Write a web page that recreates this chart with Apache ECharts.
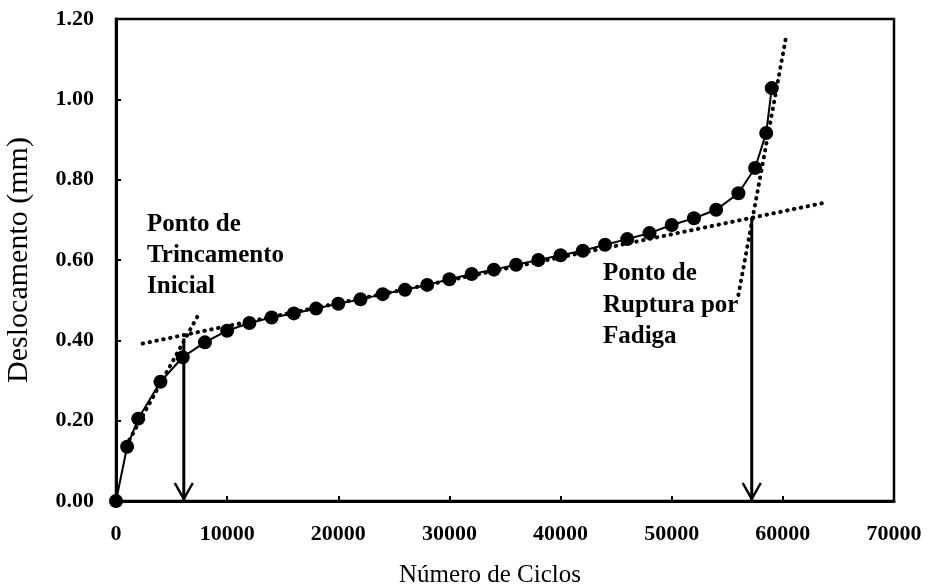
<!DOCTYPE html>
<html>
<head>
<meta charset="utf-8">
<script src="https://cdn.jsdelivr.net/npm/echarts@6/dist/echarts.min.js"></script>
<style>
html,body{margin:0;padding:0;background:#fff;}
#chart{width:928px;height:586px;}
</style>
</head>
<body>
<div id="chart"></div>
<script>
// Measured data (cycles vs displacement)
const cycles = [0,1000,2000,4000,6000,8000,10000,12000,14000,16000,18000,20000,22000,24000,26000,28000,30000,32000,34000,36000,38000,40000,42000,44000,46000,48000,50000,52000,54000,56000,57500,58500,59000];
const disp = [0,0.135,0.205,0.297,0.358,0.395,0.424,0.443,0.457,0.467,0.479,0.491,0.502,0.515,0.526,0.538,0.552,0.565,0.576,0.588,0.600,0.612,0.623,0.638,0.652,0.667,0.687,0.704,0.725,0.766,0.829,0.916,1.028];

// Tangent (dotted) lines, endpoints
const tanInitX = [1200, 7400];
const tanInitY = [0.152, 0.463];
const tanMidX = [2400, 64000];
const tanMidY = [0.392, 0.744];
const tanFinalX = [56000, 60340];
const tanFinalY = [0.513, 1.163];

// Arrows (intersection points)
const arrowX = [6100, 57200];
const arrowTop = [0.405, 0.705];

// Axis
const xTicks = [0,10000,20000,30000,40000,50000,60000,70000];
const yTicks = [0,0.2,0.4,0.6,0.8,1.0,1.2];

const annot1 = ['Ponto de','Trincamento','Inicial'];
const annot2 = ['Ponto de','Ruptura por','Fadiga'];

const pair = (xs, ys) => xs.map((x, i) => [x, ys[i]]);
const serif = '"Liberation Serif", "Times New Roman", serif';

const dotted = {
  color: '#000', width: 4, type: [0.5, 6.5], cap: 'round'
};

const chart = echarts.init(document.getElementById('chart'), null, {renderer: 'canvas'});
chart.setOption({
  backgroundColor: '#fff',
  animation: false,
  grid: {left: 116, right: 34, top: 19, bottom: 85, show: true, borderColor: '#000', borderWidth: 2.5,
    backgroundColor: 'transparent', outerBoundsMode: 'none', containLabel: false},
  xAxis: {
    type: 'value', min: xTicks[0], max: xTicks[xTicks.length-1], interval: 10000,
    name: 'Número de Ciclos', nameLocation: 'middle', nameGap: 62,
    nameTextStyle: {fontFamily: serif, fontSize: 25, color: '#000', padding: [0, 30, 0, 0]},
    axisLine: {show: true, onZero: false, lineStyle: {color: '#000', width: 3}},
    axisTick: {show: true, inside: true, length: 5, lineStyle: {color: '#000', width: 2}},
    axisLabel: {fontFamily: serif, fontSize: 22, fontWeight: 'bold', color: '#000', margin: 22,
      formatter: v => String(v)},
    splitLine: {show: false}
  },
  yAxis: {
    type: 'value', min: yTicks[0], max: yTicks[yTicks.length-1], interval: 0.2,
    name: 'Deslocamento (mm)', nameLocation: 'middle', nameGap: 82,
    nameTextStyle: {fontFamily: serif, fontSize: 30, color: '#000'},
    axisLine: {show: true, onZero: false, lineStyle: {color: '#000', width: 3}},
    axisTick: {show: true, inside: true, length: 5, lineStyle: {color: '#000', width: 2}},
    axisLabel: {fontFamily: serif, fontSize: 22, fontWeight: 'bold', color: '#000', margin: 22,
      formatter: v => v.toFixed(2)},
    splitLine: {show: false}
  },
  series: [
    {type: 'line', data: pair(tanInitX, tanInitY), symbol: 'none', lineStyle: dotted, z: 1},
    {type: 'line', data: pair(tanMidX, tanMidY), symbol: 'none', lineStyle: dotted, z: 1},
    {type: 'line', data: pair(tanFinalX, tanFinalY), symbol: 'none', lineStyle: dotted, z: 1},
    {
      type: 'custom', z: 2,
      data: pair(arrowX, arrowTop),
      renderItem: function (params, api) {
        const top = api.coord([api.value(0), api.value(1)]);
        const bot = api.coord([api.value(0), 0]);
        return {
          type: 'group',
          children: [
            {type: 'line', shape: {x1: top[0], y1: top[1], x2: bot[0], y2: bot[1] - 1},
             style: {stroke: '#000', lineWidth: 3}},
            {type: 'polyline', shape: {points: [[bot[0] - 9, bot[1] - 18], [bot[0], bot[1] - 2], [bot[0] + 9, bot[1] - 18]]},
             style: {stroke: '#000', lineWidth: 2.5, fill: null}}
          ]
        };
      }
    },
    {
      type: 'line', data: pair(cycles, disp), z: 3,
      symbol: 'circle', symbolSize: 14,
      itemStyle: {color: '#000'},
      lineStyle: {color: '#000', width: 2}
    }
  ],
  graphic: [
    {type: 'text', left: 147, top: 209, style: {text: annot1.join('\n'), font: 'bold 25px ' + serif, lineHeight: 31, fill: '#000'}},
    {type: 'text', left: 603, top: 258, style: {text: annot2.join('\n'), font: 'bold 25px ' + serif, lineHeight: 31.5, fill: '#000'}}
  ]
});
</script>
</body>
</html>
